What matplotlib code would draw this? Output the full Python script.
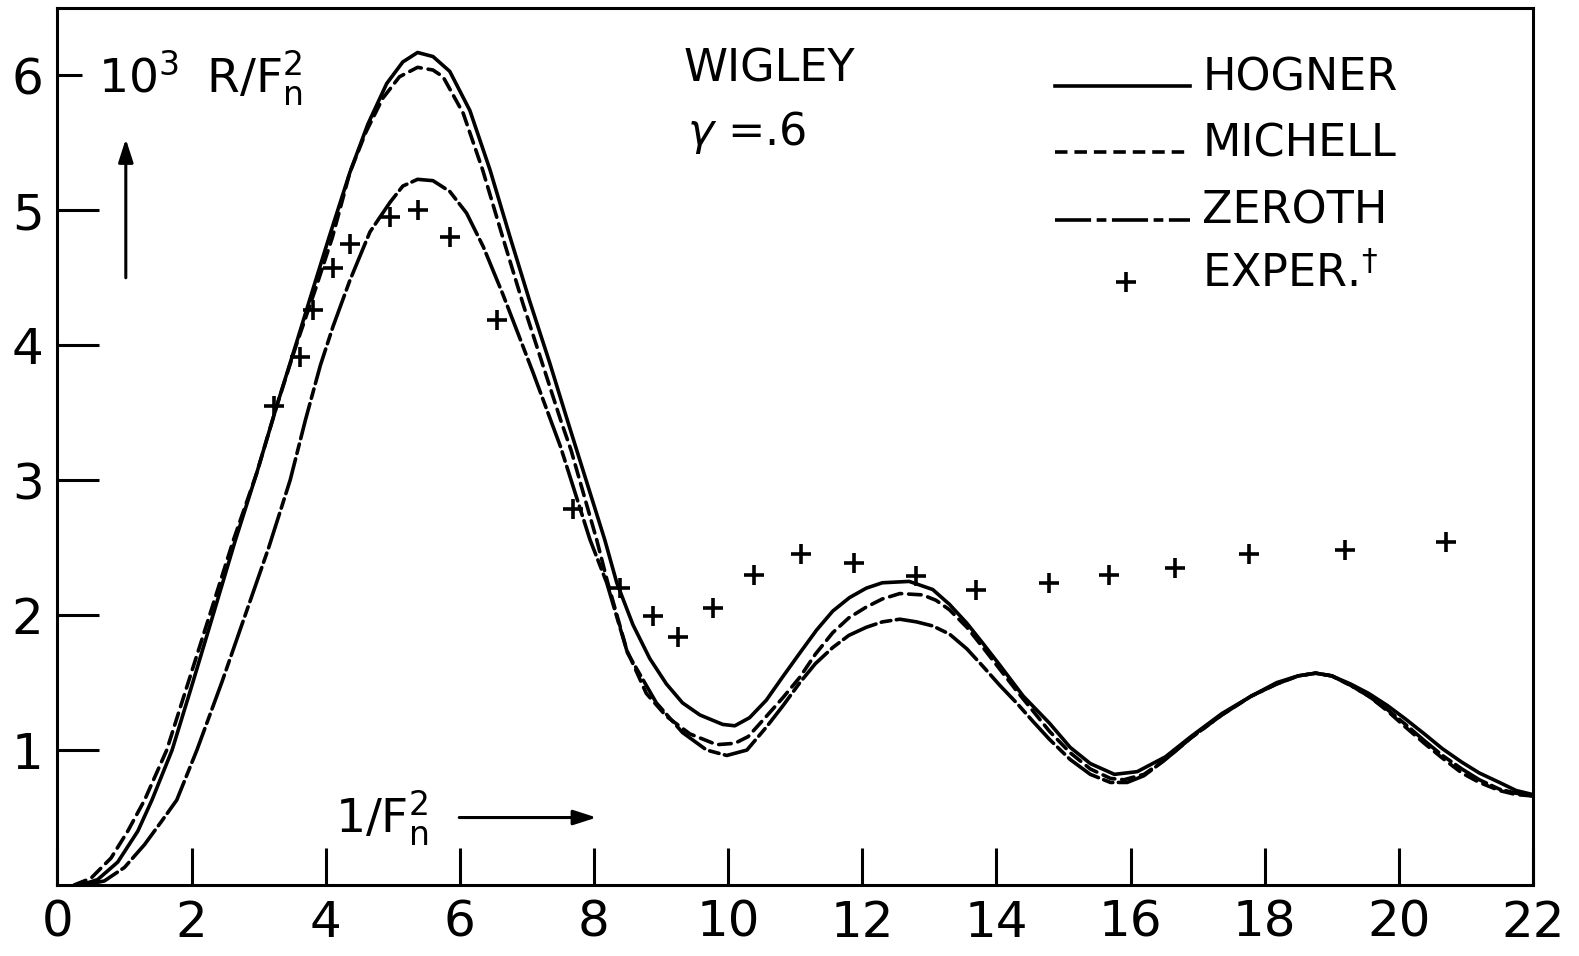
import numpy as np
import matplotlib
matplotlib.use('Agg')
from matplotlib import pyplot as plt

# wave resistance of the Wigley hull, gamma = .6
hogner_x = [0.35, 0.6, 0.9, 1.2, 1.41, 1.71, 2.0, 2.32, 2.65, 2.97, 3.27, 3.54, 3.8, 4.05, 4.36, 4.63,
            4.91, 5.15, 5.37, 5.6, 5.85, 6.15, 6.45, 6.75, 7.04, 7.34, 7.6, 7.82, 8.16, 8.34, 8.58, 8.83,
            9.08, 9.32, 9.58, 9.92, 10.1, 10.32, 10.57, 10.81, 11.07, 11.32, 11.56, 11.81, 12.06, 12.3,
            12.7, 13.05, 13.3, 13.56, 13.8, 14.05, 14.4, 14.79, 15.1, 15.4, 15.76, 16.1, 16.52, 16.9,
            17.36, 17.8, 18.18, 18.5, 18.76, 19.0, 19.28, 19.55, 19.83, 20.1, 20.38, 20.65, 20.94, 21.2,
            21.5, 21.75, 22.0]
hogner_y = [0.0, 0.04, 0.17, 0.4, 0.63, 1.0, 1.47, 2.0, 2.55, 3.05, 3.55, 3.98, 4.4, 4.8, 5.28, 5.64,
            5.94, 6.1, 6.17, 6.14, 6.03, 5.74, 5.3, 4.8, 4.33, 3.87, 3.45, 3.1, 2.56, 2.24, 1.93, 1.68,
            1.49, 1.35, 1.26, 1.19, 1.18, 1.24, 1.37, 1.54, 1.72, 1.89, 2.03, 2.13, 2.2, 2.24,
            2.25, 2.19, 2.08, 1.94, 1.79, 1.63, 1.4, 1.2, 1.02, 0.9, 0.82, 0.84, 0.95, 1.1,
            1.27, 1.4, 1.5, 1.55, 1.57, 1.55, 1.49, 1.42, 1.33, 1.23, 1.12, 1.01, 0.91, 0.83,
            0.76, 0.7, 0.67]

michell_x = [0.25, 0.5, 0.8, 1.05, 1.3, 1.63, 1.95, 2.27, 2.62, 2.97, 3.27, 3.56, 3.85, 4.1, 4.36, 4.6,
             4.85, 5.1, 5.37, 5.6, 5.75, 6.05, 6.34, 6.64, 6.94, 7.24, 7.5, 7.66, 8.04, 8.2, 8.49, 8.78,
             9.08, 9.43, 9.83, 10.1, 10.3, 10.57, 10.82, 11.07, 11.3, 11.56, 11.8, 12.06, 12.3, 12.56,
             12.9, 13.1, 13.3, 13.56, 13.8, 14.05, 14.3, 14.79, 15.1, 15.4, 15.7, 15.9, 16.2, 16.52,
             16.9, 17.36, 17.8, 18.18, 18.5, 18.76, 19.0, 19.28, 19.55, 19.83, 20.1, 20.38, 20.65,
             20.94, 21.2, 21.5, 21.75, 22.0]
michell_y = [0.0, 0.05, 0.2, 0.4, 0.63, 1.0, 1.5, 2.0, 2.55, 3.05, 3.55, 4.0, 4.42, 4.8, 5.28, 5.58,
             5.83, 5.99, 6.06, 6.04, 5.99, 5.72, 5.3, 4.8, 4.31, 3.85, 3.45, 3.22, 2.56, 2.25, 1.74, 1.42,
             1.25, 1.12, 1.04, 1.05, 1.1, 1.25, 1.39, 1.54, 1.71, 1.87, 1.98, 2.06, 2.12, 2.16,
             2.15, 2.11, 2.04, 1.91, 1.76, 1.6, 1.44, 1.14, 0.98, 0.86, 0.79, 0.78, 0.82, 0.93,
             1.09, 1.26, 1.4, 1.49, 1.55, 1.57, 1.55, 1.48, 1.4, 1.29, 1.17, 1.05, 0.94,
             0.83, 0.76, 0.7, 0.67, 0.66]

zeroth_x = [0.4, 0.7, 1.0, 1.3, 1.55, 1.78, 2.08, 2.45, 2.8, 3.15, 3.47, 3.7, 3.92, 4.11, 4.36, 4.66,
            4.96, 5.15, 5.37, 5.6, 5.85, 6.1, 6.35, 6.64, 6.85, 7.09, 7.5, 7.94, 8.19, 8.5, 8.93, 9.32,
            9.68, 9.98, 10.28, 10.57, 10.82, 11.07, 11.3, 11.56, 11.8, 12.06, 12.3, 12.56, 12.81, 13.05,
            13.3, 13.56, 13.8, 14.05, 14.3, 14.55, 14.79, 15.1, 15.4, 15.7, 15.95, 16.2, 16.52, 16.9,
            17.36, 17.8, 18.18, 18.5, 18.76, 19.0, 19.28, 19.55, 19.83, 20.1, 20.38, 20.65, 20.94,
            21.2, 21.5, 21.75, 22.0]
zeroth_y = [0.0, 0.03, 0.13, 0.3, 0.47, 0.63, 1.0, 1.5, 2.0, 2.5, 3.0, 3.45, 3.85, 4.14, 4.48, 4.84,
            5.06, 5.18, 5.23, 5.22, 5.14, 4.98, 4.73, 4.38, 4.11, 3.8, 3.25, 2.56, 2.24, 1.72, 1.35, 1.13,
            1.0, 0.96, 1.0, 1.17, 1.33, 1.5, 1.64, 1.76, 1.85, 1.91, 1.95, 1.97, 1.95, 1.92,
            1.86, 1.75, 1.62, 1.48, 1.35, 1.21, 1.08, 0.93, 0.82, 0.76, 0.76, 0.81, 0.93, 1.09,
            1.26, 1.4, 1.49, 1.55, 1.57, 1.55, 1.48, 1.4, 1.3, 1.19, 1.07, 0.96, 0.86,
            0.78, 0.71, 0.68, 0.66]

exper_x = [3.23, 3.62, 3.81, 4.11, 4.36, 4.96, 5.37, 5.85, 6.55, 7.68, 8.39, 8.88, 9.25, 9.77, 10.38,
           11.08, 11.87, 12.8, 13.69, 14.78, 15.68, 16.66, 17.77, 19.19, 20.70]
exper_y = [3.55, 3.91, 4.26, 4.57, 4.75, 4.95, 5.00, 4.80, 4.19, 2.79, 2.20, 1.99, 1.84, 2.05, 2.30,
           2.45, 2.39, 2.29, 2.19, 2.24, 2.30, 2.35, 2.45, 2.48, 2.54]

x_ticks = list(range(0, 23, 2))
y_ticks = [1, 2, 3, 4, 5, 6]

plt.rcParams['font.family'] = ['DejaVu Sans']
plt.rcParams['mathtext.fontset'] = 'dejavusans'
plt.rcParams['lines.scale_dashes'] = False

LW = 2.6
michell_dash = (9, 5)
zeroth_dash = (26, 4, 7, 4)

fig = plt.figure(figsize=(15.79, 9.56), dpi=100)
ax = fig.add_axes([0.03635, 0.07427, 0.9345, 0.9174])

ax.plot(hogner_x, hogner_y, color='black', lw=LW, solid_joinstyle='round', solid_capstyle='round')
ax.plot(michell_x, michell_y, color='black', lw=LW, dashes=michell_dash, dash_capstyle='round')
ax.plot(zeroth_x, zeroth_y, color='black', lw=LW, dashes=zeroth_dash, dash_capstyle='round')
ax.plot(exper_x, exper_y, ls='none', marker='+', ms=14, mew=2.6, color='black')

ax.set_xlim(0, 22)
ax.set_ylim(0, 6.5)
ax.set_xticks(x_ticks)
ax.set_xticklabels([str(t) for t in x_ticks])
ax.set_yticks(y_ticks)
ax.set_yticklabels([str(t) for t in y_ticks])
ax.tick_params(axis='x', direction='in', length=27, width=2.2, pad=10, labelsize=36)
ax.tick_params(axis='y', direction='in', length=30, width=2.2, pad=10, labelsize=36)
# the top y tick is short so it stays clear of the quantity label
ax.yaxis.get_major_ticks()[-1].tick1line.set_markersize(18)
for sp in ax.spines.values():
    sp.set_linewidth(2.2)

# legend, drawn by hand so the lines sit on the text baseline
leg_fs = 32
rows = [('HOGNER', None, 5.89), ('MICHELL', michell_dash, 5.40), ('ZEROTH', zeroth_dash, 4.90)]
for name, dash, yb in rows:
    if dash is None:
        ax.plot([14.87, 16.88], [yb + 0.03, yb + 0.03], color='black', lw=LW)
    else:
        ax.plot([14.87, 16.88], [yb + 0.03, yb + 0.03], color='black', lw=LW, dashes=dash)
    ax.text(17.07, yb, name, fontsize=leg_fs, ha='left', va='baseline')
ax.plot([15.93], [4.47], ls='none', marker='+', ms=14, mew=2.6, color='black')
ax.text(17.07, 4.43, r'EXPER.$^{\dagger}$', fontsize=leg_fs, ha='left', va='baseline')

ax.text(10.62, 6.05, 'WIGLEY', fontsize=leg_fs, ha='center', va='center')
ax.text(10.28, 5.58, r'$\gamma$ =.6', fontsize=leg_fs, ha='center', va='center')

# axis quantities with arrows
ax.text(0.6, 5.87, r'$\mathregular{10^3\;\;R/F_n^2}$', fontsize=34, ha='left', va='baseline')
ax.annotate('', xy=(1.02, 5.55), xytext=(1.02, 4.48),
            arrowprops=dict(arrowstyle='-|>,head_length=1.4,head_width=0.45', color='black', lw=2.2))
ax.text(4.14, 0.385, r'$\mathregular{1/F_n^2}$', fontsize=34, ha='left', va='baseline')
ax.annotate('', xy=(8.08, 0.50), xytext=(5.95, 0.50),
            arrowprops=dict(arrowstyle='-|>,head_length=1.4,head_width=0.45', color='black', lw=2.2))

fig.savefig('out.png', dpi=100)
